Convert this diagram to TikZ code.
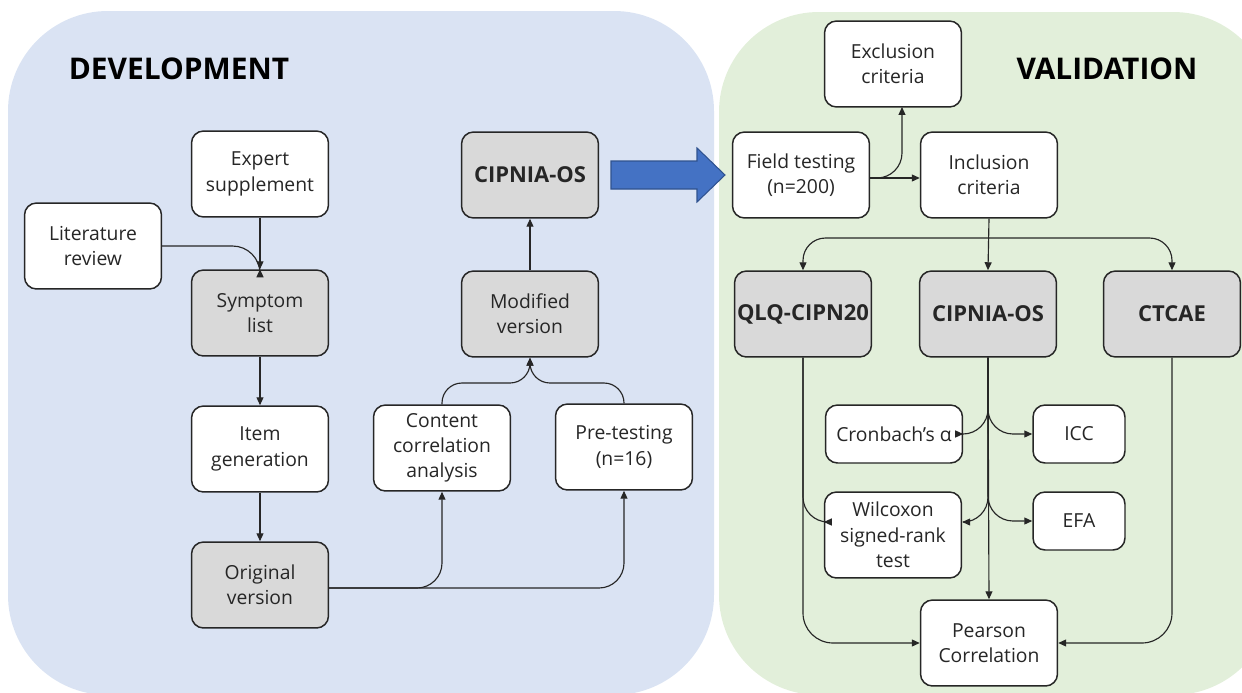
\documentclass[tikz,border=0pt]{standalone}
\usepackage{fontspec}
\setmainfont{Open Sans}
\usetikzlibrary{arrows.meta}
\definecolor{devblue}{HTML}{DAE3F3}
\definecolor{valgreen}{HTML}{E2EFDA}
\definecolor{boxgray}{HTML}{D9D9D9}
\definecolor{ink}{HTML}{262626}
\definecolor{arrowblue}{HTML}{4472C4}
\definecolor{arrowedge}{HTML}{2F528F}
\tikzset{
  box/.style={draw=ink, line width=0.85pt, rounded corners=0.24cm, fill=white,
    minimum width=2.74cm, minimum height=1.72cm, align=center, text=ink,
    inner sep=1pt, font=\fontsize{11}{14.4}\selectfont},
  graybox/.style={box, fill=boxgray},
  boldbox/.style={graybox, font=\fontsize{12.5}{15}\selectfont\bfseries},
  smallbox/.style={box, minimum height=1.16cm},
  conn/.style={draw=ink, line width=0.65pt, -{Triangle[length=1.6mm,width=1.4mm]}},
  title/.style={font=\fontsize{17}{20}\selectfont\bfseries, text=black}
}
\begin{document}
\begin{tikzpicture}[x=0.02cm,y=-0.02cm]
\useasboundingbox (0,0) rectangle (1242,693);
\begin{scope}
\clip (0,0) rectangle (1242,693);
\fill[devblue, rounded corners=2cm] (8,11) rectangle (714,695);
\fill[valgreen, rounded corners=2cm] (719,12) rectangle (1273,695);
\end{scope}
\node[title] (dev) at (179,69) {DEVELOPMENT};
\node[title] (val) at (1107,69) {VALIDATION};
% development
\node[box] (exp) at (260,174) {Expert\\supplement};
\node[box] (lit) at (93,246) {Literature\\review};
\node[graybox] (sym) at (260,313) {Symptom\\list};
\node[box] (item) at (260,449) {Item\\generation};
\node[graybox] (orig) at (260,585) {Original\\version};
\node[box] (cont) at (442,448) {Content\\correlation\\analysis};
\node[box] (pre) at (624,447) {Pre-testing\\(n=16)};
\node[graybox] (mod) at (530,314) {Modified\\version};
\node[boldbox] (cip1) at (530,175) {CIPNIA-OS};
\draw[arrowedge, fill=arrowblue, line width=0.6pt] (611,161) -- (697,161) -- (697,148) -- (725,175) -- (697,202) -- (697,189) -- (611,189) -- cycle;
% validation
\node[box] (excl) at (893,64) {Exclusion\\criteria};
\node[box] (field) at (801,175) {Field testing\\(n=200)};
\node[box] (incl) at (989,175) {Inclusion\\criteria};
\node[boldbox] (qlq) at (803,314) {QLQ-CIPN20};
\node[boldbox] (cip2) at (988,314) {CIPNIA-OS};
\node[boldbox] (ct) at (1172,314) {CTCAE};
\node[smallbox] (cron) at (894,434) {Cronbach’s α};
\node[smallbox, minimum width=1.84cm] (icc) at (1079,434) {ICC};
\node[box] (wil) at (893,535) {Wilcoxon\\signed-rank\\test};
\node[smallbox, minimum width=1.84cm] (efa) at (1079,521) {EFA};
\node[box] (pear) at (989,643) {Pearson\\Correlation};
\coordinate (exin) at (902,107);
\coordinate (split) at (989,238);
% development connectors
\draw[conn] (exp) -- (sym);
\draw[conn, rounded corners=0.55cm] (lit.east) -| (sym.north);
\draw[conn] (sym) -- (item);
\draw[conn] (item) -- (orig);
\draw[conn, rounded corners=0.5cm] ([yshift=-0.06cm]orig.east) -| (cont.south);
\draw[conn, rounded corners=0.5cm] ([yshift=-0.06cm]orig.east) -| (pre.south);
\draw[conn, rounded corners=0.4cm] (cont.north) |- (530,383) -- (mod.south);
\draw[conn, rounded corners=0.4cm] (pre.north) |- (530,383) -- (mod.south);
\draw[conn] (mod) -- (cip1);
% validation connectors
\draw[conn] ([yshift=-0.06cm]field.east) -- ([yshift=-0.06cm]incl.west);
\draw[conn, rounded corners=0.5cm] ([yshift=-0.06cm]field.east) -| (exin);
\draw[conn] (incl.south) -- (cip2.north);
\draw[conn, rounded corners=0.45cm] (split) -| (qlq.north);
\draw[conn, rounded corners=0.45cm] (split) -| (ct.north);
\draw[conn] (cip2.south) -- (pear.north);
\draw[conn, rounded corners=0.5cm] (cip2.south) |- (cron.east);
\draw[conn, rounded corners=0.5cm] (cip2.south) |- (icc.west);
\draw[conn, rounded corners=0.5cm] (cip2.south) |- ([yshift=0.26cm]wil.east);
\draw[conn, rounded corners=0.5cm] (cip2.south) |- (efa.west);
\draw[conn, rounded corners=0.5cm] (qlq.south) |- ([yshift=0.26cm]wil.west);
\draw[conn, rounded corners=0.6cm] (qlq.south) |- (pear.west);
\draw[conn, rounded corners=0.6cm] (ct.south) |- (pear.east);
\end{tikzpicture}
\end{document}
